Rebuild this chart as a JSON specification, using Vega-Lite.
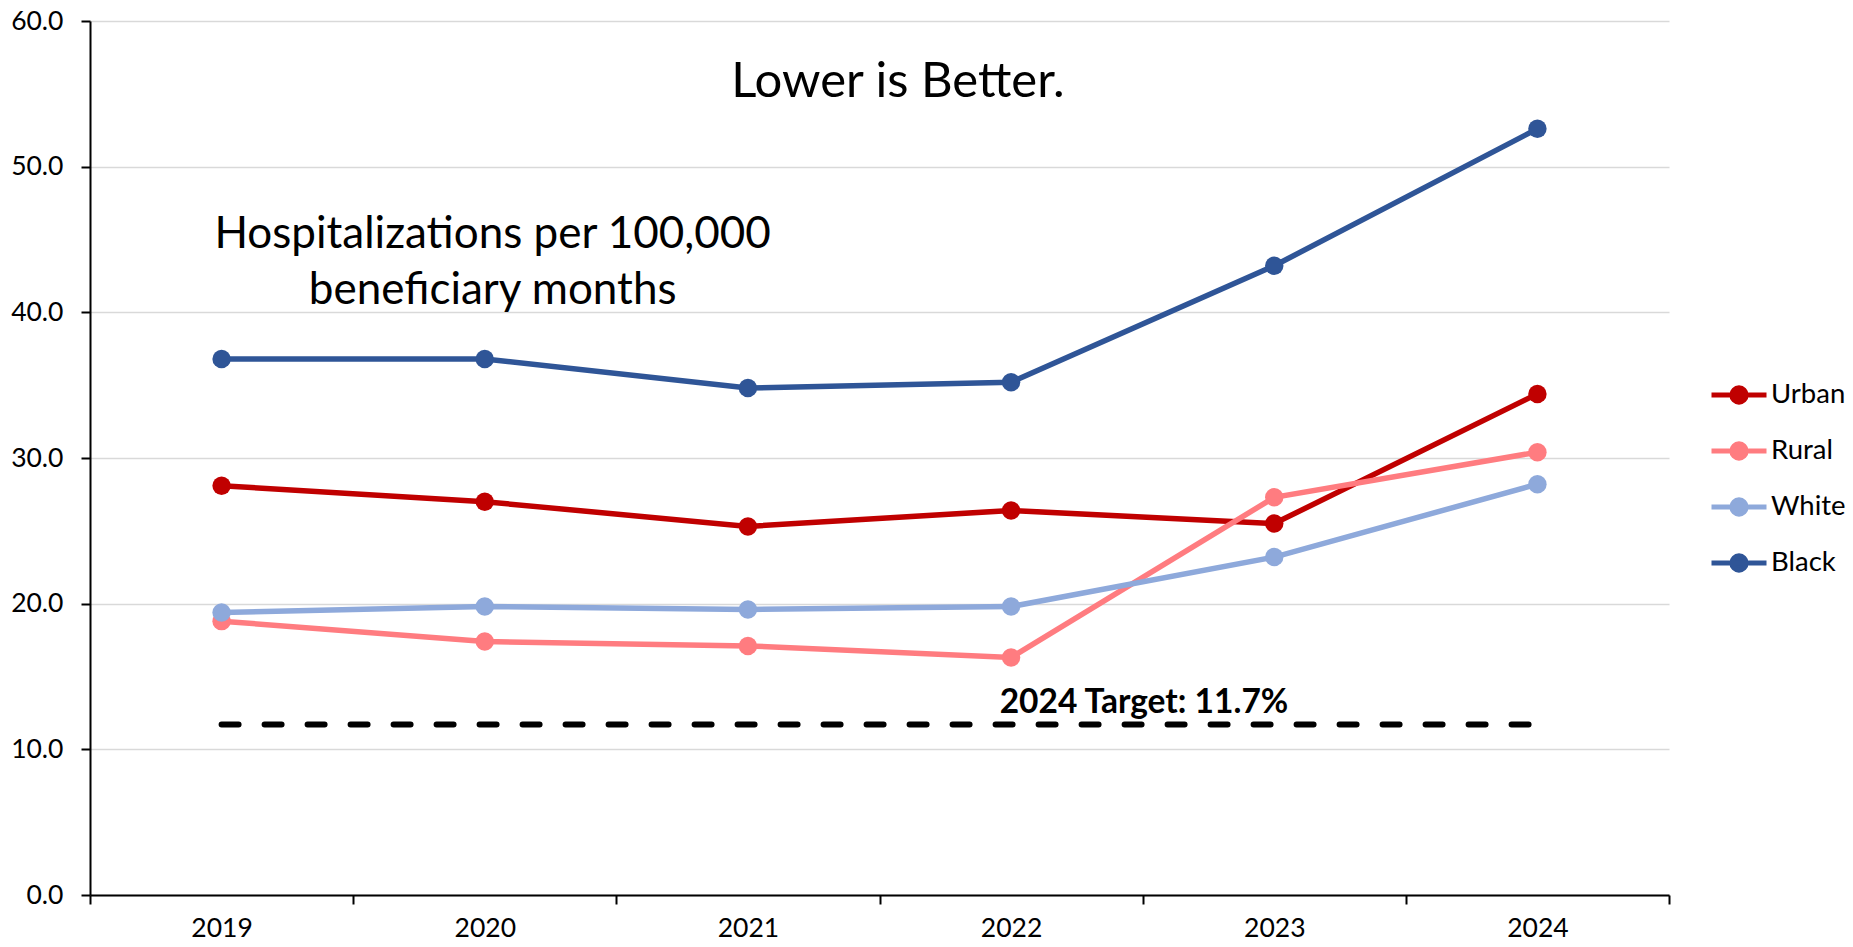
{
  "$schema": "https://vega.github.io/schema/vega-lite/v6.json",
  "width": 1579,
  "height": 874,
  "autosize": {"type": "none"},
  "padding": {"left": 90, "top": 21, "right": 184, "bottom": 52},
  "background": "white",
  "config": {"view": {"stroke": null}, "font": "Lato"},
  "datasets": {
    "series": [
      {"year": 2019, "series": "Urban", "value": 28.1},
      {"year": 2020, "series": "Urban", "value": 27.0},
      {"year": 2021, "series": "Urban", "value": 25.3},
      {"year": 2022, "series": "Urban", "value": 26.4},
      {"year": 2023, "series": "Urban", "value": 25.5},
      {"year": 2024, "series": "Urban", "value": 34.4},
      {"year": 2019, "series": "Rural", "value": 18.8},
      {"year": 2020, "series": "Rural", "value": 17.4},
      {"year": 2021, "series": "Rural", "value": 17.1},
      {"year": 2022, "series": "Rural", "value": 16.3},
      {"year": 2023, "series": "Rural", "value": 27.3},
      {"year": 2024, "series": "Rural", "value": 30.4},
      {"year": 2019, "series": "White", "value": 19.4},
      {"year": 2020, "series": "White", "value": 19.8},
      {"year": 2021, "series": "White", "value": 19.6},
      {"year": 2022, "series": "White", "value": 19.8},
      {"year": 2023, "series": "White", "value": 23.2},
      {"year": 2024, "series": "White", "value": 28.2},
      {"year": 2019, "series": "Black", "value": 36.8},
      {"year": 2020, "series": "Black", "value": 36.8},
      {"year": 2021, "series": "Black", "value": 34.8},
      {"year": 2022, "series": "Black", "value": 35.2},
      {"year": 2023, "series": "Black", "value": 43.2},
      {"year": 2024, "series": "Black", "value": 52.6}
    ]
  },
  "layer": [
    {
      "data": {"values": [{"target": 11.7, "start": 2019, "end": 2024}]},
      "mark": {"type": "rule", "color": "black", "strokeWidth": 6, "strokeDash": [17, 26], "strokeCap": "round"},
      "encoding": {
        "x": {"field": "start", "type": "quantitative", "scale": {"domain": [2018.5, 2024.5], "nice": false, "zero": false},
          "axis": {
            "values": [2018.5, 2019.5, 2020.5, 2021.5, 2022.5, 2023.5, 2024.5],
            "labelExpr": "datum.value < 2024 ? format(datum.value + 0.5, 'd') : ''",
            "labelOffset": 131.6, "title": null, "grid": false,
            "domainColor": "black", "domainWidth": 2, "tickColor": "black", "tickWidth": 2, "tickSize": 9,
            "labelFontSize": 26.5, "labelColor": "black", "labelPadding": 11,
            "labelOverlap": false, "labelBound": false, "labelFlush": false
          }},
        "x2": {"field": "end"},
        "y": {"field": "target", "type": "quantitative", "scale": {"domain": [0, 60], "nice": false},
          "axis": {
            "values": [0, 10, 20, 30, 40, 50, 60], "format": ".1f", "title": null,
            "grid": true, "gridColor": "#d9d9d9", "gridWidth": 1.5,
            "domainColor": "black", "domainWidth": 2, "tickColor": "black", "tickWidth": 2, "tickSize": 9,
            "labelFontSize": 26.5, "labelColor": "black", "labelPadding": 18
          }}
      }
    },
    {
      "data": {"name": "series"},
      "mark": {"type": "line", "strokeWidth": 5.5},
      "encoding": {
        "x": {"field": "year", "type": "quantitative"},
        "y": {"field": "value", "type": "quantitative"},
        "color": {
          "field": "series", "type": "nominal",
          "scale": {"domain": ["Urban", "Rural", "White", "Black"], "range": ["#C00000", "#FF7C80", "#8EA9DB", "#2F5597"]},
          "legend": {
            "orient": "none", "legendX": 1619, "legendY": 344, "title": null,
            "symbolType": "M-1,0L1,0M-0.26,0A0.26,0.26,0,1,1,0.26,0A0.26,0.26,0,1,1,-0.26,0Z",
            "symbolSize": 3025, "symbolStrokeWidth": 5,
            "labelFontSize": 27.5, "labelColor": "black", "labelOffset": 2, "rowPadding": 8,
            "encode": {"symbols": {"update": {
              "fill": {"scale": "color", "field": "value"},
              "stroke": {"scale": "color", "field": "value"},
              "strokeWidth": {"value": 5},
              "opacity": {"value": 1}
            }}}
          }
        }
      }
    },
    {
      "data": {"name": "series"},
      "mark": {"type": "point", "filled": true, "size": 340, "opacity": 1},
      "encoding": {
        "x": {"field": "year", "type": "quantitative"},
        "y": {"field": "value", "type": "quantitative"},
        "color": {"field": "series", "type": "nominal"}
      }
    },
    {
      "data": {"values": [{"label": "Lower is Better."}]},
      "mark": {"type": "text", "fontSize": 49, "color": "black", "align": "center", "baseline": "alphabetic"},
      "encoding": {
        "x": {"datum": 2021.57, "type": "quantitative"},
        "y": {"datum": 54.8, "type": "quantitative"},
        "text": {"field": "label"}
      }
    },
    {
      "data": {"values": [{"label": ["Hospitalizations per 100,000", "beneficiary months"]}]},
      "mark": {"type": "text", "fontSize": 44, "color": "black", "align": "center", "baseline": "alphabetic", "lineHeight": 56},
      "encoding": {
        "x": {"datum": 2020.03, "type": "quantitative"},
        "y": {"datum": 44.4, "type": "quantitative"},
        "text": {"field": "label"}
      }
    },
    {
      "data": {"values": [{"label": "2024 Target: 11.7%"}]},
      "mark": {"type": "text", "fontSize": 33.5, "fontWeight": "bold", "color": "black", "align": "center", "baseline": "alphabetic"},
      "encoding": {
        "x": {"datum": 2022.505, "type": "quantitative"},
        "y": {"datum": 12.49, "type": "quantitative"},
        "text": {"field": "label"}
      }
    }
  ]
}
